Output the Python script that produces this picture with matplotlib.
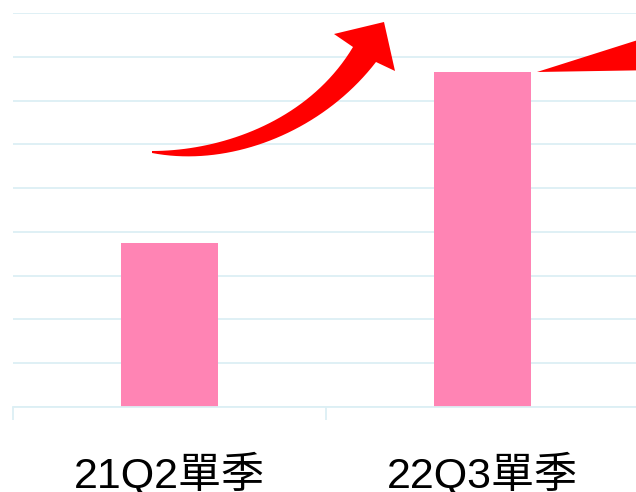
import numpy as np
import matplotlib.pyplot as plt
from matplotlib.patches import Polygon

# quarterly figures (units of one gridline)
quarters = ['21Q2單季', '22Q3單季']
values = [3.75, 7.65]

bar_color = '#FF84B4'
grid_color = '#DCEFF4'
arrow_color = '#FF0000'

plt.rcParams['font.family'] = ['Liberation Sans', 'Noto Sans CJK TC']

fig = plt.figure(figsize=(6.36, 4.92), dpi=100)
W, H = 636, 492
ax = fig.add_axes([13 / W, 85.3 / H, 626 / W, 393.4 / H])

x = np.arange(len(quarters))
ax.bar(x, values, width=0.313, color=bar_color, zorder=2)

ax.set_xlim(-0.5, 1.5)
ax.set_ylim(0, 9)
ax.set_yticks(np.arange(0, 10))
ax.yaxis.grid(True, color=grid_color, linewidth=1.3, zorder=0)
ax.tick_params(axis='y', left=False, labelleft=False)

for s in ['left', 'right', 'top']:
    ax.spines[s].set_visible(False)
ax.spines['bottom'].set_color(grid_color)
ax.spines['bottom'].set_linewidth(1.3)

ax.set_xticks(x)
ax.set_xticklabels(quarters, fontsize=31)
ax.set_xticks([-0.5, 0.5, 1.5], minor=True)
ax.tick_params(axis='x', which='major', length=0, pad=33)
ax.tick_params(axis='x', which='minor', length=9, width=1.3,
               color=grid_color, direction='out')

# overlay in pixel space for the red arrows
ov = fig.add_axes([0, 0, 1, 1])
ov.set_xlim(0, W)
ov.set_ylim(H, 0)
ov.axis('off')
ov.patch.set_alpha(0)


def cubic(p0, c1, c2, p3, n=40):
    t = np.linspace(0, 1, n)[:, None]
    p0, c1, c2, p3 = map(np.array, (p0, c1, c2, p3))
    return ((1 - t) ** 3 * p0 + 3 * (1 - t) ** 2 * t * c1
            + 3 * (1 - t) * t ** 2 * c2 + t ** 3 * p3)


upper = cubic((152, 151), (220, 151), (308, 122), (353, 47))
lower = cubic((152, 153), (230, 168), (322, 132), (376, 62))
head = np.array([(334, 34), (384, 22), (395, 71)])
outline = np.vstack([upper, head, lower[::-1]])
ov.add_patch(Polygon(outline, closed=True, facecolor=arrow_color,
                     edgecolor='none', zorder=5))

# tail of the next arrow, running off the right edge
ov.add_patch(Polygon([(537, 72), (660, 33), (660, 70)], closed=True,
                     facecolor=arrow_color, edgecolor='none', zorder=5))

fig.savefig('out.png', dpi=100)
